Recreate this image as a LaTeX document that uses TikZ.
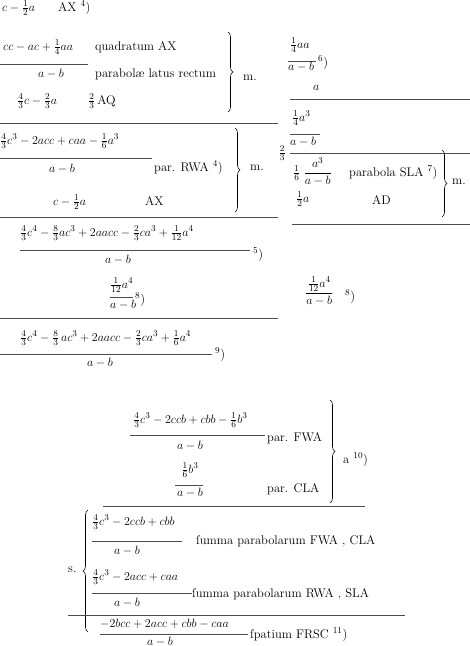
\documentclass[tikz,border=0pt]{standalone}
\usepackage{amsmath}
\usetikzlibrary{calc, decorations.pathreplacing}
\newcommand{\pagefont}{\fontsize{12.5}{15}\selectfont}
\begin{document}
\begin{tikzpicture}[x=1pt, y=-1pt]
				\tikzstyle{txt} = [anchor=base west, inner sep=0pt, font=\pagefont]
				\tikzstyle{mid} = [anchor=base, inner sep=0pt, font=\pagefont]
				\tikzstyle{bar} = [line width=0.55pt, black!70]
				\tikzstyle{rbrace} = [decorate, decoration={brace, amplitude=5pt}, line width=0.6pt]
				
				\useasboundingbox (0,0) rectangle (470,646);
				
				\node[txt] at (2,11) (cx) {$c-\tfrac{1}{2}a$};
				\node[txt] at (58,11) (ax) {AX ${}^4$)};
				
				\node[txt] at (3,50) (qn) {$cc-ac+\tfrac{1}{4}aa$};
				\node[txt] at (95,50) (qt) {quadratum AX};
				\draw[bar] (0,64) -- (88,64);
				\node[mid] at (51,77) (qd) {$a-b$};
				\node[txt] at (95,77) (pl) {parabol\ae{} latus rectum};
				\node[txt] at (17,104) (aq) {$\tfrac{4}{3}c-\tfrac{2}{3}a$};
				\node[txt] at (88,104) (aqt) {$\tfrac{2}{3}$\,AQ};
				\draw[rbrace] (228,32) -- (228,112);
				\node[txt] at (243,80) (m1) {m.};
				\draw[bar] (0,123) -- (278,123);
				
				\node[txt] at (0,144) (rn) {$\tfrac{4}{3}c^3-2acc+caa-\tfrac{1}{6}a^3$};
				\draw[bar] (0,158) -- (152,158);
				\node[mid] at (62,172) (rd) {$a-b$};
				\node[txt] at (154,171) (rwa) {par. RWA ${}^4$)};
				\node[txt] at (53,205) (cx2) {$c-\tfrac{1}{2}a$};
				\node[txt] at (145,205) (ax2) {AX};
				\draw[rbrace] (235,128) -- (235,212);
				\node[txt] at (250,170) (m2) {m.};
				\draw[bar] (0,217) -- (278,217);
				
				\node[txt] at (20,236) (fn) {$\tfrac{4}{3}c^4-\tfrac{8}{3}ac^3+2aacc-\tfrac{2}{3}ca^3+\tfrac{1}{12}a^4$};
				\draw[bar] (20,250) -- (250,250);
				\node[txt] at (253,258) (n5) {${}^5$)};
				\node[mid] at (118,263) (fd) {$a-b$};
				\node[txt] at (110,288) (tn) {$\tfrac{1}{12}a^4$};
				\draw[bar] (110,297) -- (133,297);
				\node[txt] at (110,308) (td) {$a-b$};
				\node[txt] at (135,303) (n8) {${}^8$)};
				\draw[bar] (0,318) -- (278,318);
				
				\node[txt] at (20,341) (gn) {$\tfrac{4}{3}c^4-\tfrac{8}{3}\,ac^3+2aacc-\tfrac{2}{3}ca^3+\tfrac{1}{6}a^4$};
				\draw[bar] (0,354) -- (212,354);
				\node[txt] at (215,358) (n9) {${}^9$)};
				\node[mid] at (100,366) (gd) {$a-b$};
				
				\node[txt] at (290,48) (sn) {$\tfrac{1}{4}aa$};
				\draw[bar] (288,61) -- (316,61);
				\node[txt] at (288,70) (sd) {$a-b$};
				\node[txt] at (318,66) (n6) {${}^6$)};
				\node[txt] at (313,90) (sa) {$a$};
				\draw[bar] (290,99) -- (470,99);
				\node[txt] at (292,121) (un) {$\tfrac{1}{4}a^3$};
				\draw[bar] (290,134) -- (320,134);
				\node[txt] at (290,145) (ud) {$a-b$};
				\node[anchor=east, inner sep=0pt, font=\pagefont] at (286,153) (tt) {$\tfrac{2}{3}$};
				\draw[bar] (290,153) -- (470,153);
				\node[txt] at (293,176) (sla) {$\tfrac{1}{6}\;\dfrac{a^3}{a-b}$};
				\node[txt] at (349,176) (slat) {parabola SLA ${}^7$)};
				\node[txt] at (296,202) (ad) {$\tfrac{1}{2}a$};
				\node[txt] at (372,204) (adt) {AD};
				\draw[rbrace] (442,150) -- (442,217);
				\node[txt] at (452,184) (m3) {m.};
				\draw[bar] (292,224) -- (470,224);
				\node[txt] at (305,296) (vn) {$\dfrac{\tfrac{1}{12}a^4}{a-b}$};
				\node[txt] at (345,300) (n8b) {${}^8$)};
				
				\node[txt] at (133,423) (wn) {$\tfrac{4}{3}c^3-2ccb+cbb-\tfrac{1}{6}b^3$};
				\draw[bar] (130,435) -- (265,435);
				\node[txt] at (267,441) (fwa) {par. FWA};
				\node[mid] at (190,449) (wd) {$a-b$};
				\node[mid] at (190,473) (ln) {$\tfrac{1}{6}b^3$};
				\draw[bar] (175,485) -- (203,485);
				\node[mid] at (190,496) (ld) {$a-b$};
				\node[txt] at (267,492) (cla) {par. CLA};
				\draw[rbrace] (330,400) -- (330,503);
				\node[txt] at (343,463) (a10) {a ${}^{10}$)};
				\draw[bar] (103,506) -- (365,506);
				
				\node[txt] at (68,572) (s) {s.};
				\draw[rbrace] (88,632) -- (88,510);
				\node[txt] at (92,525) (hn) {$\tfrac{4}{3}c^3-2ccb+cbb$};
				\draw[bar] (92,541) -- (182,541);
				\node[mid] at (127,554) (hd) {$a-b$};
				\node[txt] at (196,544) (hs) {\char"017F umma parabolarum FWA , CLA};
				\node[txt] at (92,580) (kn) {$\tfrac{4}{3}c^3-2acc+caa$};
				\draw[bar] (92,593) -- (192,593);
				\node[mid] at (127,606) (kd) {$a-b$};
				\node[txt] at (192,597) (ks) {\char"017F umma parabolarum RWA , SLA};
				\draw[bar] (68,615) -- (405,615);
				\node[txt] at (100,627) (pn) {$-2bcc+2acc+cbb-caa$};
				\draw[bar] (100,634) -- (248,634);
				\node[mid] at (160,645) (pd) {$a-b$};
				\node[txt] at (250,638) (ps) {\char"017F patium FRSC ${}^{11}$)};
\end{tikzpicture}
\end{document}
